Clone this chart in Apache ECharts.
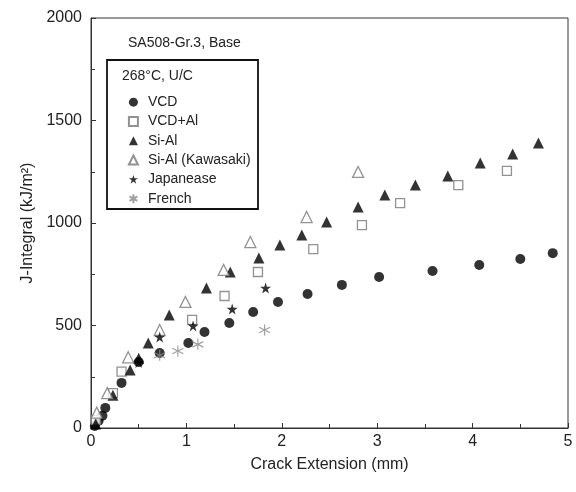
<!DOCTYPE html>
<html>
<head>
<meta charset="utf-8">
<script src="https://cdn.jsdelivr.net/npm/echarts@6/dist/echarts.min.js"></script>
<style>html,body{margin:0;padding:0;background:#fff;}#c{width:576px;height:492px;}</style>
</head>
<body>
<div id="c"></div>
<script>
// Data (crack extension mm, J-integral kJ/m^2)
var vcd = [[0.04,10],[0.08,35],[0.12,60],[0.15,98],[0.32,220],[0.50,322],[0.72,366],[1.02,415],[1.19,468],[1.45,512],[1.70,566],[1.96,615],[2.27,654],[2.63,698],[3.02,737],[3.58,766],[4.07,795],[4.50,824],[4.84,853]];
var vcdAl = [[0.05,40],[0.23,170],[0.32,275],[1.06,527],[1.40,644],[1.75,761],[2.33,873],[2.84,990],[3.24,1097],[3.85,1185],[4.36,1254]];
var siAl = [[0.05,20],[0.23,160],[0.41,283],[0.50,340],[0.60,415],[0.82,551],[1.21,683],[1.46,761],[1.76,829],[1.98,893],[2.21,941],[2.47,1005],[2.80,1078],[3.08,1137],[3.40,1185],[3.74,1229],[4.08,1293],[4.42,1337],[4.69,1390]];
var siAlKawasaki = [[0.06,75],[0.17,170],[0.39,345],[0.72,478],[0.99,615],[1.39,771],[1.67,907],[2.26,1029],[2.80,1249]];
var japanese = [[0.50,320],[0.72,444],[1.07,498],[1.48,580],[1.83,683]];
var french = [[0.72,355],[0.91,376],[1.12,408],[1.82,478]];
var seriesNames = ['VCD','VCD+Al','Si-Al','Si-Al (Kawasaki)','Japanease','French'];
var xTicks = [0,1,2,3,4,5];
var yTicks = [0,500,1000,1500,2000];

var STAR = 'path://M0,-1L0.2245,-0.309L0.951,-0.309L0.363,0.118L0.588,0.809L0,0.382L-0.588,0.809L-0.363,0.118L-0.951,-0.309L-0.2245,-0.309Z';
var AST = 'path://M0,-1L0,1M-0.87,-0.5L0.87,0.5M-0.87,0.5L0.87,-0.5';
var FONT = '"Liberation Sans", Arial, sans-serif';

var chart = echarts.init(document.getElementById('c'), null, {renderer:'canvas'});
chart.setOption({
  animation:false,
  backgroundColor:'#fff',
  grid:{left:91,right:8,top:18,bottom:64,show:true,borderColor:'#333',borderWidth:1,backgroundColor:'transparent'},
  xAxis:{type:'value',min:0,max:5,interval:1,
    name:'Crack Extension (mm)',nameLocation:'middle',nameGap:29,
    nameTextStyle:{fontFamily:FONT,fontSize:16,color:'#222'},
    axisLine:{show:true,lineStyle:{color:'#333',width:1}},
    axisTick:{show:true,inside:true,length:5,lineStyle:{color:'#333'}},
    minorTick:{show:true,splitNumber:2,length:4,lineStyle:{color:'#333'}},
    splitLine:{show:false},
    axisLabel:{fontFamily:FONT,fontSize:16,color:'#222',margin:6,
      formatter:function(v){return xTicks.indexOf(v)>=0?String(v):'';}}
  },
  yAxis:{type:'value',min:0,max:2000,interval:500,
    name:'J-Integral (kJ/m²)',nameLocation:'middle',nameGap:52,nameRotate:90,
    nameTextStyle:{fontFamily:FONT,fontSize:16,color:'#222'},
    axisLine:{show:true,lineStyle:{color:'#333',width:1}},
    axisTick:{show:true,inside:true,length:5,lineStyle:{color:'#333'}},
    minorTick:{show:true,splitNumber:2,length:4,lineStyle:{color:'#333'}},
    splitLine:{show:false},
    axisLabel:{fontFamily:FONT,fontSize:16,color:'#222',margin:9,
      formatter:function(v){return yTicks.indexOf(v)>=0?String(v):'';}}
  },
  legend:{orient:'vertical',left:122,top:90,itemWidth:9,itemHeight:9,itemGap:5,
    symbolKeepAspect:true,
    data:seriesNames,
    textStyle:{fontFamily:FONT,fontSize:14,color:'#222',lineHeight:14.3,padding:[0,0,0,5]},
    selectedMode:false},
  graphic:[
    {type:'rect',shape:{x:107,y:60,width:151,height:149},style:{fill:'none',stroke:'#111',lineWidth:1.8},z:10},
    {type:'text',left:122,top:69,style:{text:'268°C, U/C',fontFamily:FONT,fontSize:14,fill:'#222'},z:10},
    {type:'text',left:128,top:36,style:{text:'SA508-Gr.3, Base',fontFamily:FONT,fontSize:14,fill:'#222'},z:10}
  ],
  series:[
    {name:seriesNames[0],type:'scatter',data:vcd,symbol:'circle',symbolSize:10,itemStyle:{color:'#000'}},
    {name:seriesNames[1],type:'scatter',data:vcdAl,symbol:'rect',symbolSize:9,itemStyle:{color:'#fff',borderColor:'#777',borderWidth:1.3}},
    {name:seriesNames[2],type:'scatter',data:siAl,symbol:'triangle',symbolSize:11,itemStyle:{color:'#000'}},
    {name:seriesNames[3],type:'scatter',data:siAlKawasaki,symbol:'triangle',symbolSize:11,itemStyle:{color:'#fff',borderColor:'#777',borderWidth:1.3}},
    {name:seriesNames[4],type:'scatter',data:japanese,symbol:STAR,symbolSize:11,itemStyle:{color:'#000'}},
    {name:seriesNames[5],type:'scatter',data:french,symbol:AST,symbolSize:11,itemStyle:{color:'none',borderColor:'#888',borderWidth:1.2}}
  ]
});
</script>
</body>
</html>
